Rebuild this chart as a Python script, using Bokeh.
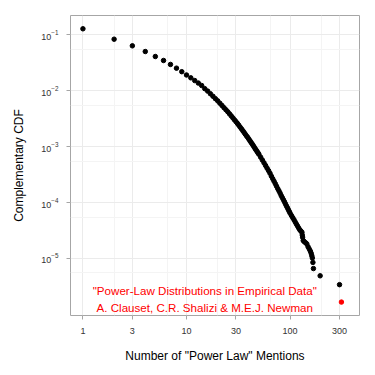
from bokeh.plotting import figure
from bokeh.models import FixedTicker, NumeralTickFormatter, Range1d, ColumnDataSource
from bokeh.core.properties import value
from bokeh.embed import file_html
from bokeh.resources import INLINE

# Number of "Power Law" mentions (distinct values) and complementary CDF
mentions = [1, 2, 3, 4, 5, 6, 7, 8, 9, 10, 11, 12, 13, 14, 15, 16, 17, 18, 19, 20,
            21, 22, 23, 24, 25, 26, 27, 28, 29, 30, 31, 32, 33, 34, 35, 36, 37, 38, 39, 40,
            41, 42, 43, 44, 45, 46, 47, 48, 49, 50, 52, 54, 56, 58, 60, 62, 64, 66, 68, 70,
            72, 74, 76, 78, 80, 82, 84, 86, 88, 90, 92, 94, 96, 98, 100, 103, 106, 109, 112, 115,
            118, 121, 124, 127, 130, 131, 132, 134, 137, 141, 145, 149, 153, 157, 160, 162, 164, 166, 168, 195,
            300]
ccdf = [0.128, 0.0834, 0.0635, 0.0502, 0.0409, 0.0347, 0.0295, 0.0253, 0.0219, 0.0191,
        0.0170, 0.0152, 0.0137, 0.0124, 0.01089, 0.00984, 0.00883, 0.00796, 0.00721, 0.00658,
        0.00597, 0.00544, 0.00497, 0.00457, 0.00421, 0.00386, 0.00355, 0.00327, 0.00302, 0.00280,
        0.00260, 0.00241, 0.00222, 0.00207, 0.00192, 0.00179, 0.00166, 0.00155, 0.00146, 0.00136,
        0.00127, 0.00119, 0.00112, 0.00105, 0.000982, 0.000920, 0.000867, 0.000818, 0.000773, 0.000729,
        0.000646, 0.000574, 0.000513, 0.000459, 0.000411, 0.000372, 0.000333, 0.000296, 0.000266, 0.000240,
        0.000217, 0.000196, 0.000177, 0.000162, 0.000148, 0.000134, 0.000123, 0.000113, 0.000104, 9.55e-5,
        8.77e-5, 8.13e-5, 7.53e-5, 6.97e-5, 6.46e-5, 5.86e-5, 5.37e-5, 4.92e-5, 4.50e-5, 4.12e-5,
        3.80e-5, 3.50e-5, 3.25e-5, 3.09e-5, 2.95e-5, 2.63e-5, 2.40e-5, 2.09e-5, 2.00e-5, 1.91e-5,
        1.82e-5, 1.62e-5, 1.48e-5, 1.35e-5, 1.23e-5, 1.12e-5, 1.02e-5, 8.5e-6, 6.6e-6, 4.9e-6,
        3.4e-6]

# Highlighted point: the Clauset, Shalizi & Newman paper
highlight_mentions = [313]
highlight_ccdf = [1.66e-6]

x_ticks = [1, 3, 10, 30, 100, 300]
x_minor = [2, 6.5, 20, 65, 200]
y_ticks = [1e-1, 1e-2, 1e-3, 1e-4, 1e-5]
y_minor = [5.5e-2, 5.5e-3, 5.5e-4, 5.5e-5, 5.5e-6]

note_lines = ['"Power-Law Distributions in Empirical Data"',
              'A. Clauset, C.R. Shalizi & M.E.J. Newman']
note_x = [15, 15]
note_y = [2.67e-6, 1.33e-6]

FONT = "Liberation Sans"

p = figure(width=375, height=375, x_axis_type="log", y_axis_type="log",
           x_range=Range1d(10 ** -0.12, 10 ** 2.67),
           y_range=Range1d(10 ** -6.02, 10 ** -0.655),
           output_backend="svg", toolbar_location=None,
           min_border_left=70, min_border_right=16, min_border_top=15, min_border_bottom=60)

p.background_fill_color = "white"
p.border_fill_color = "white"
p.outline_line_color = "#a6a6a6"
p.outline_line_width = 1

p.xaxis.ticker = FixedTicker(ticks=x_ticks, minor_ticks=x_minor)
p.yaxis.ticker = FixedTicker(ticks=y_ticks, minor_ticks=y_minor)
p.xaxis.formatter = NumeralTickFormatter(format="0")

for ax in (p.xaxis, p.yaxis):
    ax.axis_line_color = None
    ax.major_tick_line_color = "#a6a6a6"
    ax.major_tick_out = 4
    ax.major_tick_in = 0
    ax.minor_tick_line_color = None
    ax.major_label_text_font = FONT
    ax.major_label_text_font_size = "9px"
    ax.major_label_text_color = "#333333"
    ax.axis_label_text_font = FONT
    ax.axis_label_text_font_size = "12px"
    ax.axis_label_text_font_style = "normal"
    ax.axis_label_text_color = "black"

p.xaxis.axis_label = 'Number of "Power Law" Mentions'
p.yaxis.axis_label = "Complementary CDF"
p.xaxis.major_label_standoff = 8
p.yaxis.major_label_standoff = 8
p.xaxis.axis_label_standoff = 12
p.yaxis.axis_label_standoff = 12

p.xgrid.ticker = p.xaxis.ticker
p.ygrid.ticker = p.yaxis.ticker
for g in (p.xgrid, p.ygrid):
    g.grid_line_color = "#ebebeb"
    g.grid_line_width = 1
    g.minor_grid_line_color = "#f4f4f4"
    g.minor_grid_line_width = 1

src = ColumnDataSource(data=dict(x=mentions, y=ccdf))
p.scatter("x", "y", source=src, size=4.5, color="black")
p.scatter(highlight_mentions, highlight_ccdf, size=4.5, color="red")

p.text(x=note_x, y=note_y, text=note_lines, text_color="red",
       text_align="center", text_baseline="middle",
       text_font=value(FONT), text_font_size="11.6px")

open("out.html", "w").write(file_html(p, INLINE))
